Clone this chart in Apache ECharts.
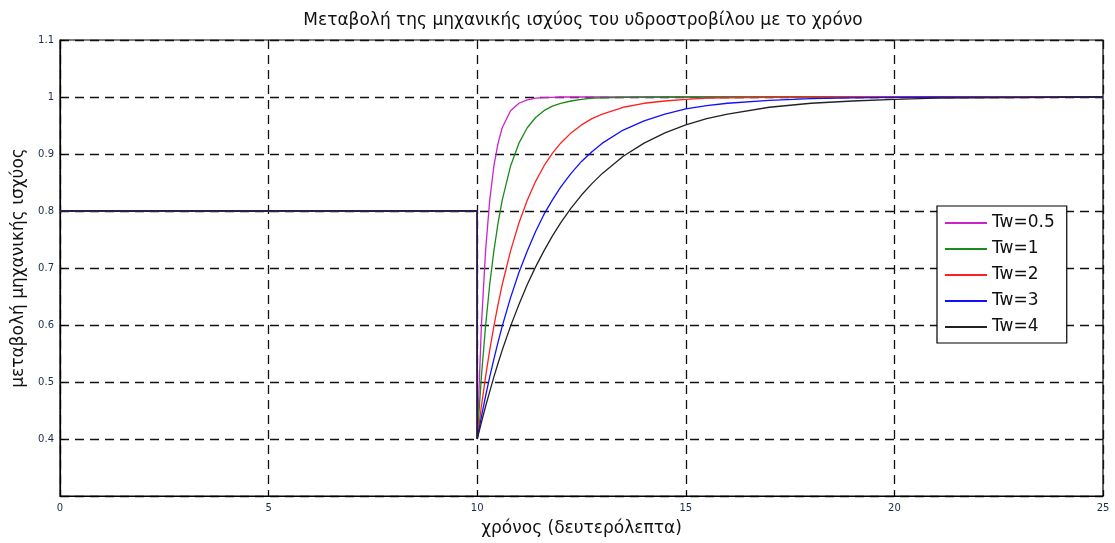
<!DOCTYPE html>
<html>
<head>
<meta charset="utf-8">
<script src="https://cdn.jsdelivr.net/npm/echarts@6/dist/echarts.min.js"></script>
<style>
  html, body { margin: 0; padding: 0; background: #fff; }
  #chart { width: 1115px; height: 543px; }
</style>
</head>
<body>
<div id="chart"></div>
<script>
// Time samples (s); the step at t = 10 is drawn as two points at the same time
const timeSec = [0, 10, 10, 10.1, 10.2, 10.3, 10.4, 10.5, 10.6, 10.8, 11, 11.2, 11.4, 11.6, 11.8, 12,
  12.25, 12.5, 12.75, 13, 13.5, 14, 14.5, 15, 15.5, 16, 17, 18, 19, 20, 21, 22, 23, 25];

const seriesNames = ['Tw=0.5', 'Tw=1', 'Tw=2', 'Tw=3', 'Tw=4'];
const seriesColors = ['#cc22cc', '#1a8a1a', '#ff2020', '#1010ff', '#222222'];

// Mechanical power (p.u.) for each water time constant
const powTw05 = [0.8, 0.8, 0.4, 0.598, 0.730, 0.819, 0.879, 0.919, 0.946, 0.976, 0.989, 0.995, 0.998, 0.999, 0.9995,
  1, 1, 1, 1, 1, 1, 1, 1, 1, 1, 1, 1, 1, 1, 1, 1, 1, 1, 1];
const powTw1 = [0.8, 0.8, 0.4, 0.509, 0.598, 0.671, 0.730, 0.779, 0.819, 0.879, 0.919, 0.946, 0.964, 0.976, 0.984,
  0.989, 0.993, 0.996, 0.998, 0.9985, 0.9995, 0.9998, 1, 1, 1, 1, 1, 1, 1, 1, 1, 1, 1, 1];
const powTw2 = [0.8, 0.8, 0.4, 0.457, 0.509, 0.556, 0.598, 0.636, 0.671, 0.730, 0.779, 0.819, 0.852, 0.879, 0.901,
  0.919, 0.937, 0.951, 0.962, 0.970, 0.982, 0.989, 0.993, 0.996, 0.998, 0.9985, 0.9995, 0.9998, 1, 1, 1, 1, 1, 1];
const powTw3 = [0.8, 0.8, 0.4, 0.439, 0.475, 0.509, 0.540, 0.570, 0.598, 0.648, 0.692, 0.730, 0.764, 0.794, 0.819,
  0.842, 0.866, 0.887, 0.904, 0.919, 0.942, 0.958, 0.970, 0.979, 0.985, 0.989, 0.994, 0.997, 0.9985, 0.9992, 0.9996, 0.9998, 0.9999, 1];
const powTw4 = [0.8, 0.8, 0.4, 0.429, 0.457, 0.483, 0.509, 0.533, 0.556, 0.598, 0.636, 0.671, 0.702, 0.730, 0.756,
  0.779, 0.805, 0.828, 0.848, 0.866, 0.896, 0.919, 0.937, 0.951, 0.962, 0.970, 0.982, 0.989, 0.993, 0.996, 0.998, 0.9985, 0.999, 1];

const allPower = [powTw05, powTw1, powTw2, powTw3, powTw4];

const FONT = '"DejaVu Sans", Verdana, sans-serif';
const gridLine = { show: true, lineStyle: { color: '#111', type: [9, 6], width: 1.3 } };

const chart = echarts.init(document.getElementById('chart'), null, { renderer: 'canvas' });
chart.setOption({
  animation: false,
  backgroundColor: '#fff',
  title: {
    text: 'Μεταβολή της μηχανικής ισχύος του υδροστροβίλου με το χρόνο',
    left: 578, top: 7, textAlign: 'center',
    textStyle: { fontFamily: FONT, fontSize: 17, fontWeight: 'normal', color: '#111' }
  },
  grid: { left: 60, right: 12, top: 40, bottom: 47, show: true, borderColor: '#000', borderWidth: 1.2, containLabel: false },
  legend: {
    orient: 'vertical', left: 937, top: 206,
    data: seriesNames,
    backgroundColor: '#fff', borderColor: '#000', borderWidth: 1.2,
    padding: [8, 12, 7, 8], itemGap: 8, itemWidth: 42, itemHeight: 2,
    icon: 'rect',
    textStyle: { fontFamily: FONT, fontSize: 17, lineHeight: 18, color: '#111' }
  },
  xAxis: {
    type: 'value', min: 0, max: 25, interval: 5,
    name: 'χρόνος (δευτερόλεπτα)', nameLocation: 'middle', nameGap: 24,
    nameTextStyle: { fontFamily: FONT, fontSize: 17, color: '#111' },
    axisLine: { show: true, onZero: false, lineStyle: { color: '#000', width: 1.2 } },
    axisTick: { show: true, inside: true, length: 5, lineStyle: { color: '#000' } },
    axisLabel: { fontFamily: FONT, fontSize: 10, color: '#1a2a4a', margin: 7 },
    splitLine: gridLine
  },
  yAxis: {
    type: 'value', min: 0.3, max: 1.1, interval: 0.1,
    name: 'μεταβολή μηχανικής ισχύος', nameLocation: 'middle', nameGap: 31,
    nameTextStyle: { fontFamily: FONT, fontSize: 17, color: '#111' },
    axisLine: { show: true, lineStyle: { color: '#000', width: 1.2 } },
    axisTick: { show: true, inside: true, length: 5, lineStyle: { color: '#000' } },
    axisLabel: {
      fontFamily: FONT, fontSize: 10, color: '#1a2a4a', margin: 6,
      formatter: function (v) { const r = Math.round(v * 10) / 10; return r < 0.35 ? '' : String(r); }
    },
    splitLine: gridLine
  },
  series: seriesNames.map(function (name, i) {
    return {
      name: name, type: 'line', showSymbol: false, symbol: 'none', smooth: false,
      color: seriesColors[i],
      lineStyle: { width: 1.3, color: seriesColors[i] },
      data: timeSec.map(function (t, k) { return [t, allPower[i][k]]; }),
      z: 2 + i
    };
  })
});
</script>
</body>
</html>
